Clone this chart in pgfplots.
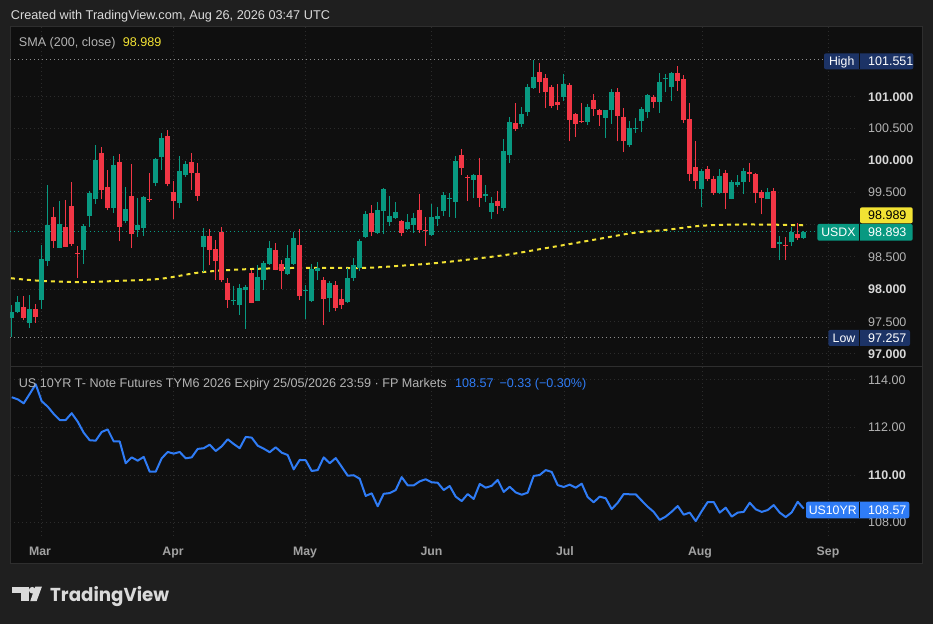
\documentclass[border=0pt]{standalone}
\usepackage{pgfplots}
\pgfplotsset{compat=1.18}
\usepackage{pgfplotstable}
\usepackage{fontspec}
\setmainfont{Liberation Sans}
\newfontfamily\logofont{Poppins}
\definecolor{outer}{HTML}{1F1F1F}
\definecolor{panel}{HTML}{0F0F0F}
\definecolor{frame}{HTML}{2E2E2E}
\definecolor{gridc}{HTML}{2C2C2C}
\definecolor{up}{HTML}{089981}
\definecolor{dn}{HTML}{F23645}
\definecolor{sma}{HTML}{F2E233}
\definecolor{blu}{HTML}{2F7CF6}
\definecolor{navy}{HTML}{1C3366}
\definecolor{lbl}{HTML}{B4B4B4}
\definecolor{lblb}{HTML}{D8D8D8}
\definecolor{hdr}{HTML}{DADADA}
\definecolor{mon}{HTML}{A2A2A2}
\definecolor{hilo}{HTML}{8E8E8E}

\pgfplotstableread{
x o h l c
11.7 97.56 97.76 97.257 97.64
17.7 97.64 97.89 97.63 97.80
23.7 97.72 97.89 97.52 97.56
29.7 97.47 97.91 97.40 97.69
35.7 97.69 97.77 97.48 97.57
41.7 97.83 98.68 97.69 98.47
47.7 98.44 99.61 98.36 98.99
53.7 99.12 99.27 98.64 98.75
59.7 98.64 99.37 98.63 99.01
65.7 98.96 99.38 98.65 98.66
71.7 99.29 99.66 98.67 98.70
77.7 98.56 98.67 98.18 98.55
83.7 98.61 99.01 98.39 98.98
89.7 99.14 99.52 98.97 99.49
95.7 99.40 100.23 99.32 100.00
101.7 100.11 100.20 99.39 99.54
107.7 99.58 99.85 99.22 99.26
113.7 99.26 100.06 99.18 99.92
119.7 99.97 100.09 98.74 98.97
125.7 99.06 99.58 99.03 99.24
131.7 99.44 99.94 98.63 98.86
137.7 98.92 99.41 98.81 98.99
143.7 98.94 99.44 98.83 99.43
149.7 99.40 99.80 99.35 99.39
155.7 99.64 100.03 99.59 100.02
161.7 100.04 100.42 99.85 100.34
167.7 100.37 100.46 99.59 99.63
173.7 99.50 99.67 99.08 99.37
179.7 99.34 100.06 99.25 99.83
185.7 99.77 99.98 99.74 99.94
191.7 99.97 100.11 99.54 99.80
197.7 99.80 99.95 99.37 99.45
203.7 98.65 98.95 98.27 98.82
209.7 98.82 98.93 98.37 98.61
215.7 98.62 98.76 98.14 98.44
221.7 98.89 98.96 98.11 98.14
227.7 98.10 98.17 97.71 97.83
233.7 97.81 98.05 97.76 97.83
239.7 97.76 98.08 97.60 98.02
245.7 97.99 98.06 97.38 98.04
251.7 98.25 98.29 97.78 97.79
257.7 97.82 98.37 97.81 98.19
263.7 98.14 98.44 97.99 98.41
269.7 98.39 98.75 98.38 98.64
275.7 98.61 98.72 98.29 98.30
281.7 98.39 98.45 98.00 98.28
287.7 98.24 98.68 98.22 98.48
293.7 98.39 98.89 98.37 98.79
299.7 98.68 98.93 97.83 97.89
305.7 97.97 98.06 97.54 97.98
311.7 97.82 98.39 97.80 98.31
317.7 98.28 98.42 98.14 98.33
323.7 98.14 98.19 97.45 97.85
329.7 97.86 98.13 97.65 98.10
335.7 98.06 98.13 97.66 97.71
341.7 97.85 98.00 97.69 97.76
347.7 97.80 98.33 97.79 98.17
353.7 98.17 98.48 98.13 98.37
359.7 98.33 98.78 98.28 98.75
365.7 98.81 99.21 98.79 99.16
371.7 99.18 99.30 98.82 98.89
377.7 98.87 99.35 98.86 99.23
383.7 99.21 99.56 98.85 99.55
389.7 99.04 99.44 98.98 99.13
395.7 99.10 99.35 99.09 99.20
401.7 99.06 99.07 98.82 98.87
407.7 98.93 99.16 98.92 99.04
413.7 98.99 99.18 98.87 99.10
419.7 99.23 99.47 98.87 98.92
425.7 98.92 99.12 98.67 98.91
431.7 98.84 99.32 98.83 99.12
437.7 99.09 99.27 98.98 99.13
443.7 99.21 99.50 99.13 99.46
449.7 99.40 99.49 99.12 99.41
455.7 99.35 100.06 99.10 99.98
461.7 100.08 100.17 99.77 99.88
467.7 99.74 99.77 99.37 99.73
473.7 99.69 99.78 99.41 99.77
479.7 99.77 100.03 99.27 99.41
485.7 99.44 99.61 99.35 99.47
491.7 99.20 99.43 99.09 99.33
497.7 99.37 99.52 99.16 99.29
503.7 99.26 100.33 99.21 100.14
509.7 100.08 100.67 99.95 100.59
515.7 100.57 100.88 100.45 100.48
521.7 100.56 100.82 100.51 100.71
527.7 100.74 101.18 100.68 101.13
533.7 101.11 101.551 101.10 101.28
539.7 101.36 101.50 101.04 101.21
545.7 101.27 101.33 100.80 101.05
551.7 101.13 101.16 100.80 100.84
557.7 100.90 101.18 100.77 100.85
563.7 100.98 101.33 100.91 101.18
569.7 101.16 101.19 100.29 100.62
575.7 100.71 100.73 100.36 100.56
581.7 100.60 100.88 100.57 100.59
587.7 100.59 100.87 100.54 100.82
593.7 100.93 101.02 100.68 100.79
599.7 100.77 100.79 100.53 100.70
605.7 100.65 100.78 100.34 100.77
611.7 100.77 101.10 100.56 101.05
617.7 101.05 101.11 100.29 100.68
623.7 100.67 100.80 100.12 100.29
629.7 100.23 100.60 100.20 100.50
635.7 100.49 100.65 100.42 100.50
641.7 100.60 100.82 100.43 100.79
647.7 100.74 101.02 100.65 101.01
653.7 100.98 101.01 100.80 100.90
659.7 100.90 101.35 100.73 101.21
665.7 101.26 101.33 101.05 101.27
671.7 101.13 101.36 100.91 101.35
677.7 101.35 101.46 101.07 101.22
683.7 101.25 101.32 100.57 100.62
689.7 100.63 100.88 99.67 99.78
695.7 99.89 100.29 99.55 99.67
701.7 99.55 99.86 99.27 99.83
707.7 99.86 99.91 99.67 99.71
713.7 99.71 99.75 99.46 99.49
719.7 99.49 99.86 99.48 99.75
725.7 99.80 99.85 99.24 99.49
731.7 99.40 99.69 99.39 99.66
737.7 99.61 99.77 99.58 99.66
743.7 99.66 99.88 99.47 99.83
749.7 99.81 99.95 99.66 99.78
755.7 99.78 99.80 99.33 99.49
761.7 99.50 99.54 99.16 99.41
767.7 99.40 99.57 99.39 99.50
773.7 99.52 99.57 98.63 98.64
779.7 98.70 98.82 98.45 98.73
785.7 98.68 98.81 98.45 98.67
791.7 98.73 98.96 98.67 98.89
797.7 98.85 99.02 98.76 98.79
803.7 98.79 98.90 98.78 98.893
}\candles

\pgfplotstableread{
x v
11.7 113.31
17.7 113.22
23.7 113.05
29.7 113.45
35.7 113.86
41.7 113.14
47.7 112.91
53.7 112.60
59.7 112.34
65.7 112.34
71.7 112.63
77.7 112.27
83.7 111.80
89.7 111.48
95.7 111.46
101.7 111.83
107.7 111.94
113.7 111.43
119.7 111.43
125.7 110.50
131.7 110.75
137.7 110.61
143.7 110.77
149.7 110.14
155.7 110.14
161.7 110.71
167.7 110.98
173.7 110.91
179.7 110.98
185.7 110.71
191.7 110.75
197.7 111.11
203.7 111.14
209.7 111.29
215.7 111.02
221.7 111.22
227.7 111.52
233.7 111.32
239.7 111.14
245.7 111.62
251.7 111.59
257.7 111.25
263.7 111.12
269.7 110.97
275.7 111.18
281.7 110.95
287.7 110.85
293.7 110.24
299.7 110.64
305.7 110.63
311.7 110.17
317.7 110.21
323.7 110.75
329.7 110.50
335.7 110.72
341.7 110.35
347.7 109.97
353.7 109.99
359.7 109.84
365.7 109.11
371.7 109.22
377.7 108.67
383.7 109.20
389.7 109.23
395.7 109.36
401.7 109.91
407.7 109.56
413.7 109.56
419.7 109.73
425.7 109.82
431.7 109.69
437.7 109.67
443.7 109.36
449.7 109.53
455.7 109.08
461.7 108.89
467.7 109.19
473.7 108.98
479.7 109.62
485.7 109.46
491.7 109.54
497.7 109.79
503.7 109.28
509.7 109.50
515.7 109.26
521.7 109.16
527.7 109.25
533.7 109.96
539.7 110.00
545.7 110.21
551.7 110.13
557.7 109.57
563.7 109.49
569.7 109.59
575.7 109.46
581.7 109.63
587.7 109.06
593.7 108.84
599.7 109.08
605.7 109.01
611.7 108.55
617.7 108.82
623.7 109.19
629.7 109.18
635.7 109.18
641.7 108.91
647.7 108.65
653.7 108.43
659.7 108.09
665.7 108.23
671.7 108.44
677.7 108.68
683.7 108.31
689.7 108.40
695.7 108.04
701.7 108.46
707.7 108.85
713.7 108.85
719.7 108.40
725.7 108.61
731.7 108.23
737.7 108.40
743.7 108.43
749.7 108.82
755.7 108.54
761.7 108.43
767.7 108.51
773.7 108.72
779.7 108.40
785.7 108.21
791.7 108.41
797.7 108.86
803.7 108.57
}\tnote

\tikzset{
  gl/.style={gridc, line width=1pt, dash pattern=on 1pt off 3pt},
  lab/.style={anchor=west, inner sep=0pt, text height=9pt, text depth=0pt, font=\fontsize{12.5}{12.5}\selectfont, text=lbl},
  labb/.style={lab, text=lblb, font=\fontsize{12.5}{12.5}\selectfont\bfseries},
  boxt/.style={anchor=center, inner sep=0pt, text height=9pt, text depth=0pt, font=\fontsize{12.3}{12.3}\selectfont, text=white},
  mon/.style={anchor=base, inner sep=0pt, font=\fontsize{12.3}{12.3}\selectfont\bfseries, text=mon},
}

\begin{document}
\begin{tikzpicture}
\path[use as bounding box] (0,0) rectangle (933pt,624pt);
\begin{scope}[yshift=624pt, x=1pt, y=-1pt]
  \fill[outer] (0,0) rectangle (933,624);
  \fill[panel] (10,27) rectangle (922.7,563.3);
  \draw[frame, line width=1pt] (10,27) rectangle (922.7,563.3);
  \draw[frame, line width=1pt] (10,366.5) -- (922.7,366.5);
  % horizontal grid, main panel
  \foreach \yy in {96.5,128.3,160,192.3,224.6,257,289.3,321.7,354}
    \draw[gl] (10,\yy) -- (858,\yy);
  % horizontal grid, lower panel
  \foreach \yy in {380,427.5,475,522.3}
    \draw[gl] (10,\yy) -- (858,\yy);
  % vertical grid at month starts
  \foreach \xx in {41,173,305,431.7,564,702,828}
    \draw[gl] (\xx,27) -- (\xx,538);
  % high / low / last price lines
  \draw[hilo, line width=1pt, dash pattern=on 1pt off 3pt] (10,60) -- (824,60);
  \draw[hilo, line width=1pt, dash pattern=on 1pt off 3pt] (10,337.7) -- (828,337.7);
  \draw[up, line width=1pt, dash pattern=on 1pt off 3pt] (10,232) -- (817,232);
\end{scope}

% ---------- main price panel ----------
\begin{axis}[at={(10pt,258pt)}, anchor=south west, width=848pt, height=339pt,
  scale only axis, xmin=10, xmax=858, ymin=96.8111, ymax=102.0588,
  hide axis, clip=true,
  colormap={ud}{color=(dn) color=(up)}, point meta min=0, point meta max=1]
  \addplot[sma, line width=2pt, dash pattern=on 4pt off 4pt, smooth] coordinates {
    (11,98.17) (40,98.13) (80,98.11) (120,98.13) (160,98.16) (200,98.26)
    (233,98.30) (267,98.32) (300,98.33) (333,98.33) (367,98.33) (407,98.37)
    (440,98.41) (480,98.48) (510,98.54) (540,98.62) (570,98.70) (603,98.79)
    (633,98.87) (667,98.92) (700,98.98) (733,99.00) (767,99.00) (805,98.989)};
  \addplot[quiver={u=0, v=\thisrow{h}-\thisrow{l}, colored,
      every arrow/.append style={-, line width=1pt, line cap=butt}},
    point meta={\thisrow{c}>\thisrow{o}}] table[x=x, y=l] {\candles};
  \addplot[quiver={u=0, v=\thisrow{c}-\thisrow{o}, colored,
      every arrow/.append style={-, line width=4.8pt, line cap=butt}},
    point meta={\thisrow{c}>\thisrow{o}}] table[x=x, y=o] {\candles};
\end{axis}

% ---------- lower panel ----------
\begin{axis}[at={(10pt,86pt)}, anchor=south west, width=848pt, height=171pt,
  scale only axis, xmin=10, xmax=858, ymin=107.3191, ymax=114.5957,
  hide axis, clip=true]
  \addplot[blu, line width=2pt, line join=round] table[x=x, y=v] {\tnote};
\end{axis}

\begin{scope}[yshift=624pt, x=1pt, y=-1pt]
  % header
  \node[anchor=base west, inner sep=0pt, font=\fontsize{12.7}{12.7}\selectfont, text=hdr]
    at (10.7,19.5) {Created with TradingView.com, Aug 26, 2026 03:47 UTC};
  % legends
  \node[anchor=base west, inner sep=0pt, font=\fontsize{12.6}{12.6}\selectfont, text=lbl]
    at (18.7,46.5) {SMA (200, close)};
  \node[anchor=base west, inner sep=0pt, font=\fontsize{12.6}{12.6}\selectfont, text=sma]
    at (122.7,46.5) {98.989};
  \node[anchor=base west, inner sep=0pt, font=\fontsize{12.6}{12.6}\selectfont, text=lbl]
    at (18.7,387.5) {US 10YR T- Note Futures TYM6 2026 Expiry 25/05/2026 23:59 · FP Markets};
  \node[anchor=base west, inner sep=0pt, font=\fontsize{12.6}{12.6}\selectfont, text=blu]
    at (455,387.5) {108.57};
  \node[anchor=base west, inner sep=0pt, font=\fontsize{12.6}{12.6}\selectfont, text=blu]
    at (499.3,387.5) {−0.33 (−0.30\%)};
  % right price scale, main panel
  \node[labb] at (868,96.7) {101.000};
  \node[lab] at (868,128.3) {100.500};
  \node[labb] at (868,160) {100.000};
  \node[lab] at (868,192.3) {99.500};
  \node[lab] at (868,257.3) {98.500};
  \node[labb] at (868,289.3) {98.000};
  \node[lab] at (868,321.7) {97.500};
  \node[labb] at (868,354) {97.000};
  % right scale, lower panel
  \node[lab] at (868,380) {114.00};
  \node[lab] at (868,427.3) {112.00};
  \node[labb] at (868,475) {110.00};
  \node[lab] at (868,522.3) {108.00};
  % High box
  \fill[navy, rounded corners=2pt] (824,53.3) rectangle (913.3,69.3);
  \draw[panel, line width=1pt] (859.5,53.3) -- (859.5,69.3);
  \node[boxt] at (841.7,61.3) {High};
  \node[lab, text=white] at (868,61.3) {101.551};
  % SMA value box
  \fill[sma, rounded corners=2pt] (860,207.3) rectangle (912.7,223.3);
  \node[lab, text=black] at (868,215.3) {98.989};
  % USDX box
  \fill[up, rounded corners=2pt] (817.3,224) rectangle (912.7,240.7);
  \draw[panel, line width=1pt] (859.5,224) -- (859.5,240.7);
  \node[boxt] at (838.4,232.3) {USDX};
  \node[lab, text=white] at (868,232.3) {98.893};
  % Low box
  \fill[navy, rounded corners=2pt] (828.3,330) rectangle (910,346);
  \draw[panel, line width=1pt] (859.5,330) -- (859.5,346);
  \node[boxt] at (844,338) {Low};
  \node[lab, text=white] at (868,338) {97.257};
  % US10YR box
  \fill[blu, rounded corners=2pt] (806,501.7) rectangle (909.3,518.3);
  \draw[panel, line width=1pt] (859.5,501.7) -- (859.5,518.3);
  \node[boxt] at (832.7,510) {US10YR};
  \node[lab, text=white] at (868,510) {108.57};
  % months
  \node[mon] at (40,555) {Mar};
  \node[mon] at (173,555) {Apr};
  \node[mon] at (305,555) {May};
  \node[mon] at (431.5,555) {Jun};
  \node[mon] at (565,555) {Jul};
  \node[mon] at (700,555) {Aug};
  \node[mon] at (828,555) {Sep};
  % TradingView logo
  \fill[hdr] (12.3,586.7) rectangle (29.3,592.7);
  \fill[hdr] (20.7,586.7) rectangle (29.3,601.2);
  \fill[hdr] (32.2,590.2) circle[radius=3.3pt];
  \fill[hdr] (35.3,586.7) -- (41.9,586.7) -- (36.6,601.2) -- (30.2,601.2) -- cycle;
  \node[anchor=base west, inner sep=0pt, text=hdr] at (50,601.7)
    {\resizebox{119pt}{15pt}{\logofont\bfseries TradingView}};
\end{scope}
\end{tikzpicture}
\end{document}
